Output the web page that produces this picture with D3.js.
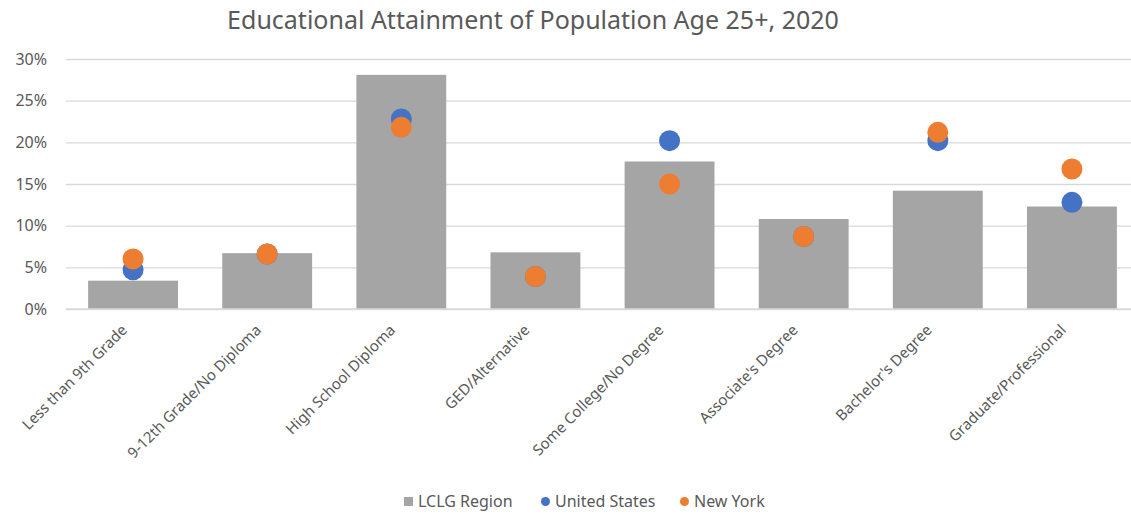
<!DOCTYPE html>
<html>
<head>
<meta charset="utf-8">
<script src="https://cdn.jsdelivr.net/npm/d3@7"></script>
<style>
  html, body { margin: 0; padding: 0; background: #fff; }
  svg { display: block; font-family: "Noto Sans", "Open Sans", sans-serif; }
</style>
</head>
<body>
<svg id="chart" width="1131" height="514"></svg>
<script>
// Educational attainment shares (percent of population age 25+)
const categories = [
  "Less than 9th Grade",
  "9-12th Grade/No Diploma",
  "High School Diploma",
  "GED/Alternative",
  "Some College/No Degree",
  "Associate's Degree",
  "Bachelor's Degree",
  "Graduate/Professional"
];
const lclgRegion   = [3.4, 6.7, 28.1, 6.8, 17.7, 10.8, 14.2, 12.3];
const unitedStates = [4.7, 6.6, 22.8, 3.9, 20.2, 8.7, 20.2, 12.8];
const newYork      = [6.0, 6.6, 21.8, 3.9, 15.0, 8.7, 21.2, 16.8];
const yTicks = [0, 5, 10, 15, 20, 25, 30];
const seriesNames = ["LCLG Region", "United States", "New York"];

const colors = { bar: "#A5A5A5", us: "#4472C4", ny: "#ED7D31", grid: "#D9D9D9", text: "#595959" };

const svg = d3.select("#chart");
const plot = { left: 66, right: 1139, top: 59, bottom: 309 };

const x = d3.scaleBand().domain(categories).range([plot.left, plot.right]).paddingInner(0.33).paddingOuter(0.165);
const y = d3.scaleLinear().domain([0, 30]).range([plot.bottom, plot.top]);

// Title
svg.append("text")
  .attr("x", 533).attr("y", 29)
  .attr("text-anchor", "middle")
  .attr("fill", colors.text)
  .style("font-size", "25px")
  .text("Educational Attainment of Population Age 25+, 2020");

// Gridlines and y-axis labels
const yAxis = d3.axisLeft(y).tickValues(yTicks).tickFormat(d => d + "%")
  .tickSize(-(plot.right - plot.left)).tickPadding(19);
const gy = svg.append("g").attr("transform", `translate(${plot.left},0)`).call(yAxis);
gy.select(".domain").remove();
gy.selectAll(".tick line").attr("stroke", colors.grid).attr("stroke-width", 1.3);
gy.selectAll(".tick text").attr("fill", colors.text).style("font-size", "16px")
  .style("font-family", "'Noto Sans', sans-serif");

// Bars
svg.append("g").selectAll("rect")
  .data(categories.map((c, i) => ({ c, v: lclgRegion[i] })))
  .join("rect")
  .attr("x", d => x(d.c))
  .attr("width", x.bandwidth())
  .attr("y", d => y(d.v))
  .attr("height", d => y(0) - y(d.v))
  .attr("fill", colors.bar);

// Baseline
svg.append("line")
  .attr("x1", plot.left).attr("x2", plot.right)
  .attr("y1", y(0)).attr("y2", y(0))
  .attr("stroke", colors.grid).attr("stroke-width", 1.3);

// Dot series
const dotSeries = [
  { values: unitedStates, color: colors.us },
  { values: newYork, color: colors.ny }
];
dotSeries.forEach(s => {
  svg.append("g").selectAll("circle")
    .data(categories.map((c, i) => ({ c, v: s.values[i] })))
    .join("circle")
    .attr("cx", d => x(d.c) + x.bandwidth() / 2)
    .attr("cy", d => y(d.v))
    .attr("r", 10.5)
    .attr("fill", s.color);
});

// Rotated category labels
const xAxis = d3.axisBottom(x).tickSize(0).tickPadding(0);
const gx = svg.append("g").attr("transform", `translate(0,${plot.bottom})`).call(xAxis);
gx.select(".domain").remove();
gx.selectAll(".tick text")
  .attr("fill", colors.text)
  .style("font-size", "15px")
  .style("font-family", "'Noto Sans', sans-serif")
  .attr("text-anchor", "end")
  .attr("dy", "0")
  .attr("transform", "translate(-5,22) rotate(-45)");

// Legend
const legend = svg.append("g").attr("transform", "translate(0,507)");
const legendItems = [
  { name: seriesNames[0], type: "rect", color: colors.bar, x: 404 },
  { name: seriesNames[1], type: "circle", color: colors.us, x: 541 },
  { name: seriesNames[2], type: "circle", color: colors.ny, x: 680 }
];
legendItems.forEach(it => {
  const g = legend.append("g").attr("transform", `translate(${it.x},0)`);
  if (it.type === "rect") {
    g.append("rect").attr("x", 0).attr("y", -10).attr("width", 9).attr("height", 9).attr("fill", it.color);
  } else {
    g.append("circle").attr("cx", 4.5).attr("cy", -5.5).attr("r", 4.5).attr("fill", it.color);
  }
  g.append("text").attr("x", 14).attr("y", 0).attr("fill", colors.text)
    .style("font-size", "16px").text(it.name);
});
</script>
</body>
</html>
